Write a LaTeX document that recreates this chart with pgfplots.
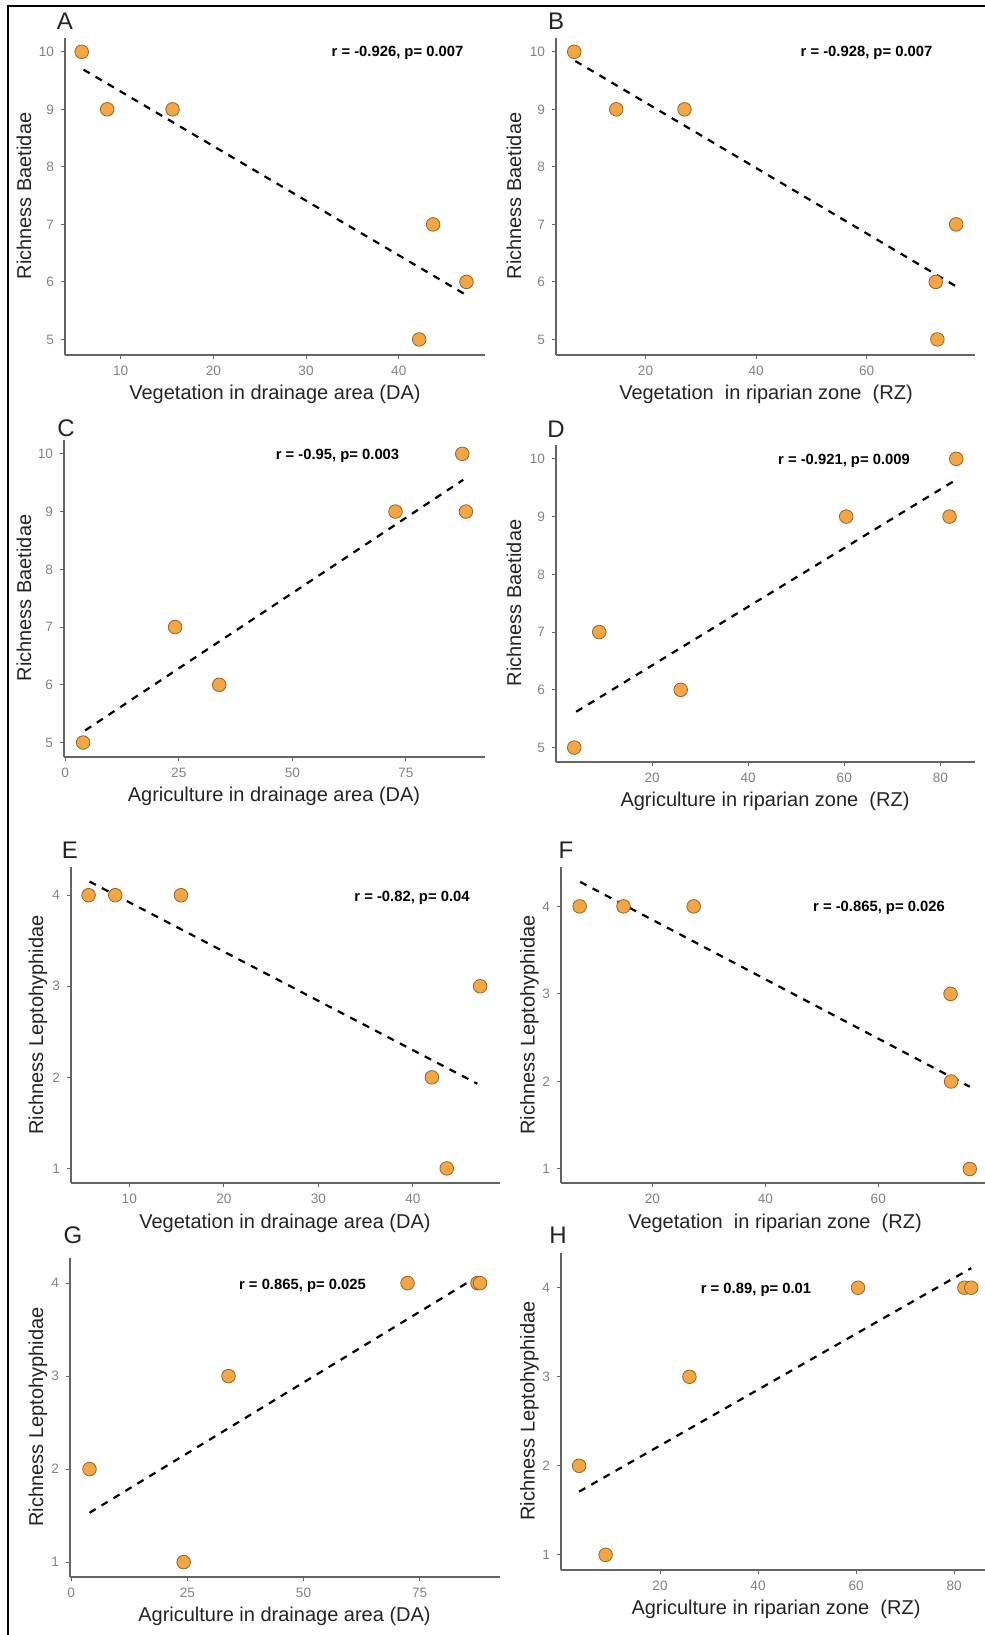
\documentclass[border=0pt]{standalone}
\usepackage{pgfplots}
\pgfplotsset{compat=1.18}
\usepackage{fontspec}
\setmainfont{Liberation Sans}
\definecolor{ptorange}{RGB}{245,165,65}
\definecolor{ptedge}{RGB}{140,100,50}
\definecolor{axgray}{RGB}{100,100,100}
\definecolor{tickgray}{RGB}{130,130,130}
\definecolor{titlecol}{RGB}{35,35,35}
\pgfplotsset{
  pan/.style={
    scale only axis, anchor=south west, clip=false,
    axis lines*=left,
    axis line style={-, draw=axgray, line width=0.6pt},
    every outer x axis line/.append style={-},
    every outer y axis line/.append style={-},
    tick align=outside, major tick length=2pt,
    tick style={draw=axgray, line width=0.5pt},
    xtick pos=bottom, ytick pos=left,
    ticklabel style={font=\fontsize{6.8}{7}\selectfont, text=tickgray},
    /pgf/number format/assume math mode=true,
  },
  pts/.style={only marks, mark=*, mark size=3.4pt, mark options={fill=ptorange, draw=ptedge, line width=0.4pt}},
  fit/.style={black, line width=1.1pt, dash pattern=on 3.6pt off 3.4pt},
}
\begin{document}
\begin{tikzpicture}
\useasboundingbox (0,0) rectangle (492.5pt,817.5pt);
% A
\begin{axis}[pan, at={(32.5pt,640pt)}, width=210pt, height=158.5pt,
  xmin=4.0, xmax=49.3, ymin=4.73, ymax=10.24, xtick={10,20,30,40}, ytick={5,6,7,8,9,10}]
\addplot[fit] coordinates {(6.0,9.69) (47.3,5.77)};
\addplot[pts] coordinates {(5.8,10) (8.55,9) (15.6,9) (43.7,7) (47.3,6) (42.2,5)};
\end{axis}
% B
\begin{axis}[pan, at={(278pt,640pt)}, width=209.5pt, height=158.5pt,
  xmin=3.8, xmax=79.6, ymin=4.73, ymax=10.24, xtick={20,40,60}, ytick={5,6,7,8,9,10}]
\addplot[fit] coordinates {(7.3,9.84) (76.4,5.91)};
\addplot[pts] coordinates {(7.1,10) (14.7,9) (27.05,9) (76.2,7) (72.5,6) (72.8,5)};
\end{axis}
% C
\begin{axis}[pan, at={(32pt,439pt)}, width=210.5pt, height=158.5pt,
  xmin=-0.26, xmax=92.4, ymin=4.75, ymax=10.24, xtick={0,25,50,75}, ytick={5,6,7,8,9,10}]
\addplot[fit] coordinates {(4.4,5.21) (87.6,9.55)};
\addplot[pts] coordinates {(3.95,5) (24.2,7) (33.9,6) (72.7,9) (87.4,10) (88.2,9)};
\end{axis}
% D
\begin{axis}[pan, at={(278pt,436.5pt)}, width=209.5pt, height=158.5pt,
  xmin=0, xmax=87.2, ymin=4.75, ymax=10.24, xtick={20,40,60,80}, ytick={5,6,7,8,9,10}]
\addplot[fit] coordinates {(4.2,5.62) (83.3,9.64)};
\addplot[pts] coordinates {(3.8,5) (9.0,7) (25.95,6) (60.4,9) (81.9,9) (83.3,10)};
\end{axis}
% E
\begin{axis}[pan, at={(35.5pt,226pt)}, width=214.5pt, height=158pt,
  xmin=3.84, xmax=49.2, ymin=0.84, ymax=4.31, xtick={10,20,30,40}, ytick={1,2,3,4}]
\addplot[fit] coordinates {(5.8,4.15) (46.8,1.93)};
\addplot[pts] coordinates {(5.7,4) (8.52,4) (15.47,4) (42.0,2) (43.57,1) (47.1,3)};
\end{axis}
% F
\begin{axis}[pan, at={(280.5pt,226pt)}, width=212pt, height=158pt,
  xmin=3.8, xmax=78.9, ymin=0.84, ymax=4.45, xtick={20,40,60}, ytick={1,2,3,4}]
\addplot[fit] coordinates {(7.2,4.28) (76.2,1.94)};
\addplot[pts] coordinates {(7.1,4) (14.87,4) (27.3,4) (72.8,3) (72.9,2) (76.2,1)};
\end{axis}
% G
\begin{axis}[pan, at={(35pt,29pt)}, width=215pt, height=159.5pt,
  xmin=-0.27, xmax=92.3, ymin=0.84, ymax=4.27, xtick={0,25,50,75}, ytick={1,2,3,4}]
\addplot[fit] coordinates {(3.93,1.53) (87.1,4.06)};
\addplot[pts] coordinates {(3.93,2) (24.2,1) (33.85,3) (72.4,4) (87.45,4) (88.0,4)};
\end{axis}
% H
\begin{axis}[pan, at={(280.5pt,32.5pt)}, width=212pt, height=158.5pt,
  xmin=-0.2, xmax=86.3, ymin=0.83, ymax=4.39, xtick={20,40,60,80}, ytick={1,2,3,4}]
\addplot[fit] coordinates {(3.5,1.71) (83.5,4.22)};
\addplot[pts] coordinates {(3.5,2) (8.9,1) (26,3) (60.4,4) (82.1,4) (83.5,4)};
\end{axis}
% texts, in image pixel coordinates
\begin{scope}[x=0.5pt, y=-0.5pt, shift={(0pt,817.5pt)}]
\draw[black, line width=1pt] (7.5,1635) -- (7.5,6) -- (985,6);
\tikzset{lett/.style={font=\fontsize{12}{12}\selectfont, text=titlecol, inner sep=0pt},
  xl/.style={font=\fontsize{10}{10}\selectfont, text=titlecol, inner sep=0pt},
  yl/.style={font=\fontsize{10}{10}\selectfont, text=titlecol, inner sep=0pt, rotate=90},
  an/.style={font=\bfseries\fontsize{7.4}{7.4}\selectfont, text=black, inner sep=0pt}}
\node[lett] at (65,21) {A};
\node[lett] at (556,21) {B};
\node[lett] at (66,428) {C};
\node[lett] at (556,429) {D};
\node[lett] at (70,850) {E};
\node[lett] at (566,850) {F};
\node[lett] at (73,1235) {G};
\node[lett] at (558,1235) {H};
\node[xl] at (275,394) {Vegetation in drainage area (DA)};
\node[xl] at (766,394) {Vegetation\ \ in riparian zone\ \ (RZ)};
\node[xl] at (274,796) {Agriculture in drainage area (DA)};
\node[xl] at (765,801) {Agriculture in riparian zone\ \ (RZ)};
\node[xl] at (285,1223) {Vegetation in drainage area (DA)};
\node[xl] at (775,1223) {Vegetation\ \ in riparian zone\ \ (RZ)};
\node[xl] at (284.5,1616) {Agriculture in drainage area (DA)};
\node[xl] at (776,1609) {Agriculture in riparian zone\ \ (RZ)};
\node[yl] at (24,196) {Richness Baetidae};
\node[yl] at (514,196) {Richness Baetidae};
\node[yl] at (24,598) {Richness Baetidae};
\node[yl] at (514,603) {Richness Baetidae};
\node[yl] at (38,1025) {Richness Leptohyphidae};
\node[yl] at (529.5,1025) {Richness Leptohyphidae};
\node[yl] at (38,1417) {Richness Leptohyphidae};
\node[yl] at (529.5,1411) {Richness Leptohyphidae};
\node[an] at (397.5,53) {r = -0.926, p= 0.007};
\node[an] at (866.5,53) {r = -0.928, p= 0.007};
\node[an] at (337.5,456) {r = -0.95, p= 0.003};
\node[an] at (844,461) {r = -0.921, p= 0.009};
\node[an] at (412,898) {r = -0.82, p= 0.04};
\node[an] at (879,908) {r = -0.865, p= 0.026};
\node[an] at (302.5,1286) {r = 0.865, p= 0.025};
\node[an] at (756,1290) {r = 0.89, p= 0.01};
\end{scope}
\end{tikzpicture}
\end{document}
